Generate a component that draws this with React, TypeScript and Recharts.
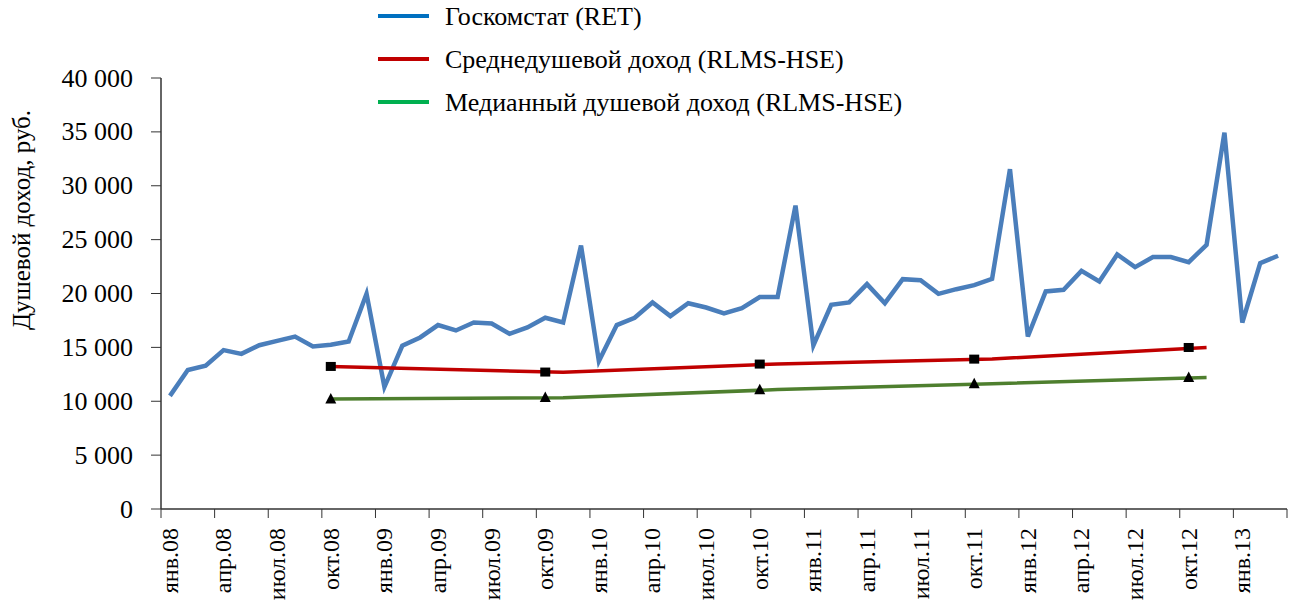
import React from "react"
import {
  ComposedChart,
  Line,
  XAxis,
  YAxis,
} from "recharts"

const monthNames = ["янв", "фев", "мар", "апр", "май", "июн", "июл", "авг", "сен", "окт", "ноя", "дек"]
const years = ["08", "09", "10", "11", "12", "13"]

// Jan 2008 .. Mar 2013
const months: string[] = years.flatMap((yy) => monthNames.map((m) => `${m}.${yy}`)).slice(0, 63)

// Госкомстат (RET), monthly
const retIncome = [
  10500, 12900, 13300, 14750, 14400, 15200, 15600, 16000, 15080, 15240, 15550, 19970,
  11320, 15150, 15920, 17070, 16570, 17310, 17220, 16260, 16850, 17750, 17310, 24450,
  13730, 17070, 17750, 19170, 17900, 19100, 18700, 18150, 18640, 19670, 19670, 28160,
  15180, 18950, 19170, 20870, 19100, 21330, 21240, 19970, 20400, 20780, 21360, 31540,
  16010, 20190, 20340, 22100, 21110, 23620, 22450, 23380, 23380, 22910, 24520, 34930,
  17310, 22820, 23500,
]

// RLMS-HSE rounds: trend line vertices and round markers
const meanLine: [string, number][] = [
  ["окт.08", 13230], ["ноя.09", 12690], ["ноя.10", 13460], ["ноя.11", 13930], ["ноя.12", 14990],
]
const meanRounds: [string, number][] = [
  ["окт.08", 13230], ["окт.09", 12710], ["окт.10", 13450], ["окт.11", 13910], ["окт.12", 14990],
]
const medianLine: [string, number][] = [
  ["окт.08", 10200], ["ноя.09", 10330], ["ноя.10", 11080], ["ноя.11", 11630], ["ноя.12", 12210],
]
const medianRounds: [string, number][] = [
  ["окт.08", 10200], ["окт.09", 10350], ["окт.10", 11070], ["окт.11", 11620], ["окт.12", 12210],
]

const yTicks = [0, 5000, 10000, 15000, 20000, 25000, 30000, 35000, 40000]

const legendItems = [
  { name: "Госкомстат (RET)", color: "#0070C0" },
  { name: "Среднедушевой доход (RLMS-HSE)", color: "#C00000" },
  { name: "Медианный душевой доход (RLMS-HSE)", color: "#00B050" },
]

const W = 1293
const H = 604
const LEFT = 161
const RIGHT = 6
const TOP = 78
const XH = 95
const STEP = (W - LEFT - RIGHT) / months.length

const lookup = (list: [string, number][], m: string) => {
  const f = list.find((p) => p[0] === m)
  return f ? f[1] : null
}

const data = months.map((m, i) => ({
  x: i + 0.5,
  ret: retIncome[i],
  meanLine: lookup(meanLine, m),
  meanDot: lookup(meanRounds, m),
  medLine: lookup(medianLine, m),
  medDot: lookup(medianRounds, m),
}))

const xTicks = Array.from({ length: months.length / 3 + 1 }, (_, k) => k * 3)

const fmt = (v: number) => String(v).replace(/\B(?=(\d{3})+(?!\d))/g, " ")

const MonthTick = (props: any) => {
  const { x, y, payload } = props
  const label = months[payload.value]
  if (!label) return null
  const cx = x + STEP / 2
  const ty = y + 8
  return (
    <text
      x={cx}
      y={ty}
      transform={`rotate(-90 ${cx} ${ty})`}
      textAnchor="end"
      dy="0.33em"
      fontSize={24}
      fill="#000"
    >
      {label}
    </text>
  )
}

const ValueTick = (props: any) => {
  const { x, y, payload } = props
  return (
    <text x={x} y={y} textAnchor="end" dy="0.33em" fontSize={26} fill="#000">
      {fmt(payload.value)}
    </text>
  )
}

const SquareDot = (props: any) => {
  const { cx, cy, value } = props
  if (value == null || cx == null) return null
  return <rect x={cx - 5} y={cy - 4.5} width={10} height={9} fill="#000" />
}

const TriangleDot = (props: any) => {
  const { cx, cy, value } = props
  if (value == null || cx == null) return null
  return <path d={`M${cx - 5.5},${cy + 4.5} L${cx + 5.5},${cy + 4.5} L${cx},${cy - 6} Z`} fill="#000" />
}

export default function App() {
  return (
    <div
      style={{
        position: "absolute",
        left: 0,
        top: 0,
        width: W,
        height: H,
        background: "#fff",
        fontFamily: "Liberation Serif",
      }}
    >
      <ComposedChart
        width={W}
        height={H}
        data={data}
        margin={{ top: TOP, right: RIGHT, left: 0, bottom: 0 }}
        style={{ fontFamily: "Liberation Serif" }}
      >
        <XAxis
          type="number"
          dataKey="x"
          domain={[0, months.length]}
          ticks={xTicks}
          interval={0}
          height={XH}
          tick={<MonthTick />}
          tickSize={9}
          stroke="#333"
          axisLine={{ stroke: "#333", strokeWidth: 1.5 }}
        />
        <YAxis
          width={LEFT}
          domain={[0, 40000]}
          ticks={yTicks}
          tickSize={10}
          tickMargin={18}
          stroke="#333"
          axisLine={{ stroke: "#333", strokeWidth: 1.5 }}
          tick={<ValueTick />}
        />
        <Line dataKey="ret" stroke="#4A7EBB" strokeWidth={4.5} dot={false} isAnimationActive={false} />
        <Line dataKey="meanLine" stroke="#C00000" strokeWidth={3.5} dot={false} connectNulls isAnimationActive={false} />
        <Line dataKey="medLine" stroke="#4E7F2E" strokeWidth={3.5} dot={false} connectNulls isAnimationActive={false} />
        <Line dataKey="meanDot" stroke="none" dot={<SquareDot />} activeDot={false} isAnimationActive={false} />
        <Line dataKey="medDot" stroke="none" dot={<TriangleDot />} activeDot={false} isAnimationActive={false} />
      </ComposedChart>
      <svg width={W} height={H} style={{ position: "absolute", left: 0, top: 0, pointerEvents: "none" }}>
        {legendItems.map((it, i) => (
          <g key={it.name}>
            <line x1={378} x2={429} y1={16 + i * 43} y2={16 + i * 43} stroke={it.color} strokeWidth={4} />
            <text x={445} y={16 + i * 43} dy="0.33em" fontSize={26} fill="#000">
              {it.name}
            </text>
          </g>
        ))}
        <text
          x={22}
          y={220}
          transform="rotate(-90 22 220)"
          textAnchor="middle"
          dy="0.33em"
          fontSize={25}
          fill="#000"
        >
          Душевой доход, руб.
        </text>
      </svg>
    </div>
  )
}
